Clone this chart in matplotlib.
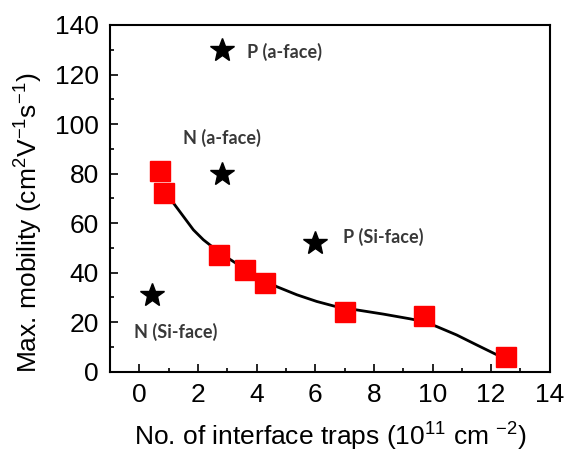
import matplotlib
matplotlib.use("Agg")
import matplotlib.pyplot as plt
from matplotlib.ticker import MultipleLocator

plt.rcParams['font.family'] = ['Liberation Sans', 'DejaVu Sans']
plt.rcParams['mathtext.fontset'] = 'custom'
plt.rcParams['mathtext.rm'] = 'Liberation Sans'
plt.rcParams['mathtext.it'] = 'Liberation Sans'

# measured devices (red squares)
traps = [0.71, 0.82, 2.7, 3.6, 4.3, 7.0, 9.7, 12.5]
mobility = [81, 72, 47, 41, 36, 24, 22.7, 6]

# guide line
curve_x = [0.82, 1.16, 1.5, 1.84, 2.18, 2.47, 2.7, 3.1, 3.6, 4.0, 4.3, 4.68, 5.37, 6.05,
           6.62, 7.0, 7.41, 8.32, 9.23, 9.7, 10.14, 10.82, 11.5, 12.19, 12.4]
curve_y = [72, 68.1, 62.7, 57.3, 53.3, 50.6, 48.5, 45.3, 41.5, 38.7, 37, 34.4, 31.1, 28.4,
           26.6, 25.6, 25, 23.3, 21.4, 20.3, 18.3, 14.9, 10.9, 6.9, 6]

# reference points (stars)
star_x = [2.8, 2.8, 6.0, 0.42]
star_y = [130, 80, 52, 31]
star_labels = ["P (a-face)", "N (a-face)", "P (Si-face)", "N (Si-face)"]
label_x = [3.66, 1.5, 6.93, -0.18]
label_y = [129.2, 94.4, 54.6, 16.2]

fig = plt.figure(figsize=(5.65, 4.54), dpi=100)
ax = fig.add_axes([0.195, 0.181, 0.778, 0.764])

ax.plot(curve_x, curve_y, color="black", lw=2, zorder=2, solid_joinstyle="round")
ax.plot(traps, mobility, "s", color="#ff0000", markersize=14.5, zorder=3)
ax.plot(star_x, star_y, "*", color="black", markersize=18, lw=0, zorder=3)

for lx, ly, txt in zip(label_x, label_y, star_labels):
    ax.text(lx, ly, txt, fontsize=13, fontweight="bold", color="#383838",
            family=["Lato", "DejaVu Sans"], va="center", ha="left")

ax.set_xlim(-1, 14)
ax.set_ylim(0, 140)
ax.xaxis.set_major_locator(MultipleLocator(2))
ax.xaxis.set_minor_locator(MultipleLocator(1))
ax.yaxis.set_major_locator(MultipleLocator(20))
ax.yaxis.set_minor_locator(MultipleLocator(10))
ax.tick_params(which="both", direction="in", top=False, right=False, labelsize=19, width=1.2)
ax.tick_params(which="major", length=6, pad=8)
ax.tick_params(which="minor", length=3)
for s in ax.spines.values():
    s.set_linewidth(1.5)

ax.set_ylabel("Max. mobility (cm$^2$V$^{-1}$s$^{-1}$)", fontsize=19)
ax.yaxis.set_label_coords(-0.148, 0.43)
ax.set_xlabel("No. of interface traps (10$^{11}$ cm $^{-2}$)", fontsize=19)
ax.xaxis.set_label_coords(0.5, -0.142)

fig.savefig("out.png", dpi=100)
